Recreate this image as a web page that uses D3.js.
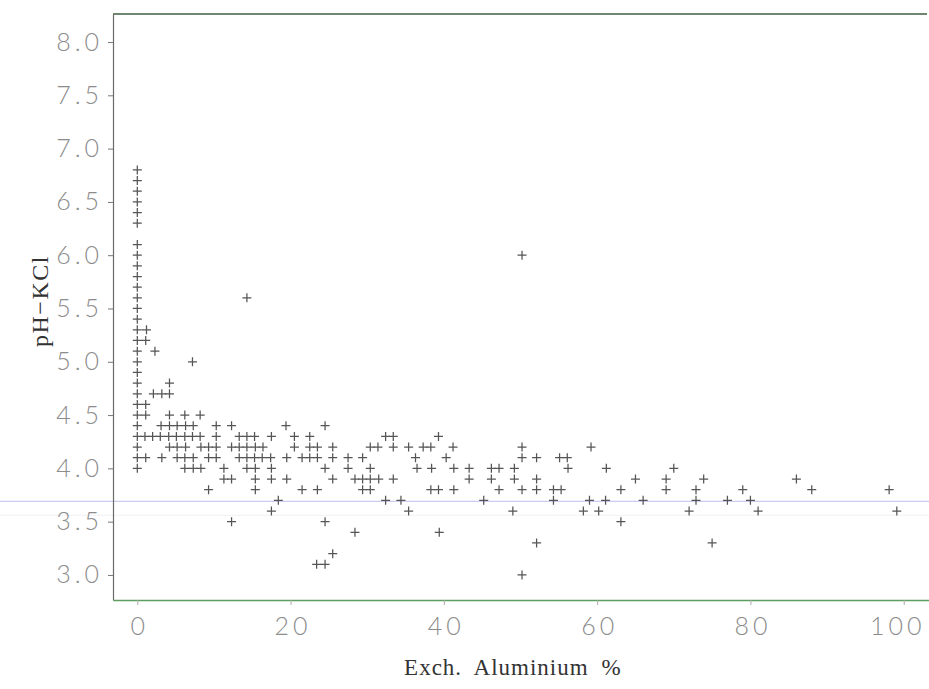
<!DOCTYPE html>
<html>
<head>
<meta charset="utf-8">
<script src="https://cdn.jsdelivr.net/npm/d3@7"></script>
<style>
  html, body { margin: 0; padding: 0; background: #fff; }
  svg { display: block; }
</style>
</head>
<body>
<div id="chart"></div>
<script>
// ---- data ----
const phLevels = [6.8, 6.7, 6.6, 6.5, 6.4, 6.3, 6.1, 6.0, 5.9, 5.8, 5.7, 5.6, 5.5, 5.4, 5.3, 5.2, 5.1, 5.0, 4.9, 4.8, 4.7, 4.6, 4.5, 4.4, 4.3, 4.2, 4.1, 4.0, 3.9, 3.8, 3.7, 3.6, 3.5, 3.4, 3.3, 3.2, 3.1, 3.0];
const alAtPh = [
  [0], [0], [0], [0], [0], [0], [0],
  [0, 50.2],
  [0], [0], [0],
  [0, 14.3],
  [0], [0],
  [0, 1.2],
  [0, 1.1],
  [0, 2.3],
  [0, 7.2],
  [0],
  [0, 4.2],
  [0, 2.1, 3.2, 4.2],
  [0, 1.1],
  [0, 1.1, 4.2, 6.2, 8.2],
  [0, 3.1, 4.2, 5.2, 6.3, 7.3, 10.3, 12.3, 19.4, 24.5],
  [0, 1, 2, 3, 4.1, 5.1, 6.2, 7.2, 8.2, 10.3, 13.3, 14.3, 15.3, 17.5, 20.5, 22.5, 32.4, 33.4, 39.3],
  [0, 4.2, 5.2, 6.3, 8.3, 9.3, 10.3, 12.3, 13.3, 14.3, 15.4, 16.4, 20.5, 22.5, 23.5, 25.5, 30.4, 31.4, 33.4, 35.4, 37.3, 38.3, 41.2, 50.2, 59.2],
  [0, 1.1, 3.2, 5.2, 6.2, 7.3, 9.3, 10.3, 13.3, 14.3, 15.3, 16.3, 17.4, 19.5, 21.5, 22.5, 23.5, 25.5, 27.5, 29.4, 36.3, 40.3, 50.2, 52.1, 55.1, 56.1],
  [0, 6.2, 7.3, 8.3, 11.3, 14.3, 15.4, 17.5, 24.5, 27.5, 30.4, 36.5, 38.4, 41.3, 43.3, 46.2, 47.2, 49.2, 56.2, 61.2, 70.0],
  [11.3, 12.3, 15.4, 17.5, 19.5, 25.5, 28.4, 29.4, 30.4, 31.5, 33.4, 43.3, 46.2, 49.2, 52.1, 65.0, 69.0, 73.9, 86.0],
  [9.3, 15.4, 21.5, 23.5, 29.4, 30.4, 38.3, 39.3, 41.3, 47.2, 50.2, 52.1, 54.3, 55.3, 63.1, 69.0, 72.9, 79.0, 88.0, 98.1],
  [18.4, 32.4, 34.4, 45.2, 54.3, 59.0, 61.1, 66.0, 72.9, 77.0, 80.0],
  [17.5, 35.4, 49.0, 58.2, 60.2, 72.0, 81.0, 99.1],
  [12.3, 24.5, 63.1],
  [28.4, 39.4],
  [52.1, 75.0],
  [25.5],
  [23.4, 24.5],
  [50.2]
];
const xTicks = [0, 20, 40, 60, 80, 100];
const yTicks = [3.0, 3.5, 4.0, 4.5, 5.0, 5.5, 6.0, 6.5, 7.0, 7.5, 8.0];
const xTitle = "Exch. Aluminium %";
const yTitle = "pH\u2212KCl";

const points = [];
phLevels.forEach((ph, i) => alAtPh[i].forEach(al => points.push({ al, ph })));

// ---- layout ----
const W = 929, H = 689;
const padL = 113, padR = 929, padT = 14, padB = 600;

const x = d3.scaleLinear().domain([-3.17, 103.3]).range([padL, padR]);
const y = d3.scaleLinear().domain([2.765, 8.263]).range([padB, padT]);

const svg = d3.select("#chart").append("svg")
  .attr("width", W).attr("height", H);

// faint scan lines
svg.append("line")
  .attr("x1", 0).attr("x2", W)
  .attr("y1", y(3.69)).attr("y2", y(3.69))
  .attr("stroke", "#cbcbf0").attr("stroke-width", 1.2);
svg.append("line")
  .attr("x1", 0).attr("x2", W)
  .attr("y1", y(3.56)).attr("y2", y(3.56))
  .attr("stroke", "#f0f0f6").attr("stroke-width", 1);

// frame
svg.append("line")
  .attr("x1", padL).attr("x2", 927)
  .attr("y1", padT).attr("y2", padT)
  .attr("stroke", "#3f5f42").attr("stroke-width", 1.4);

const tickFont = "Lato, 'DejaVu Sans', sans-serif";
const ls = 4;

// y axis
const yAxis = svg.append("g")
  .attr("transform", `translate(${padL},0)`)
  .call(d3.axisLeft(y).tickValues(yTicks).tickFormat(d3.format(".1f"))
    .tickSize(5).tickSizeOuter(0).tickPadding(5));
yAxis.select(".domain").attr("stroke", "#6a6a6a").attr("stroke-width", 1.2);
yAxis.selectAll(".tick line").attr("stroke", "#777");
yAxis.selectAll(".tick text")
  .attr("fill", "#8c8c8c")
  .style("font-family", tickFont)
  .style("font-weight", "300")
  .style("font-size", "25px")
  .style("letter-spacing", ls + "px");

// x axis
const xAxis = svg.append("g")
  .attr("transform", `translate(0,${padB})`)
  .call(d3.axisBottom(x).tickValues(xTicks).tickFormat(d3.format("d"))
    .tickSize(5).tickSizeOuter(0).tickPadding(12));
xAxis.select(".domain").attr("stroke", "#5c9e5f").attr("stroke-width", 1.4);
xAxis.selectAll(".tick line").attr("stroke", "#aaa");
xAxis.selectAll(".tick text")
  .attr("fill", "#8c8c8c")
  .attr("dx", ls / 2)
  .style("font-family", tickFont)
  .style("font-weight", "300")
  .style("font-size", "25px")
  .style("letter-spacing", ls + "px");
// keep labels inside the page (the reference's last label hugs the right edge)
xAxis.selectAll(".tick").each(function (d) {
  const t = d3.select(this).select("text");
  const b = t.node().getBBox();
  const tx = x(d);
  const overflow = tx + b.x + b.width - (W - 4);
  if (overflow > 0) t.attr("dx", ls / 2 - overflow);
});

// points
svg.append("g").selectAll("path")
  .data(points)
  .join("path")
  .attr("transform", d => `translate(${x(d.al)},${y(d.ph)})`)
  .attr("d", "M-4.5,0H4.5M0,-4.5V4.5")
  .attr("fill", "none")
  .attr("stroke", "#555")
  .attr("stroke-width", 1.25);

// titles
svg.append("text")
  .attr("x", x(49)).attr("y", 675)
  .attr("text-anchor", "middle")
  .attr("fill", "#333")
  .style("font-family", "'Liberation Serif', 'DejaVu Serif', serif")
  .style("font-size", "23px")
  .style("letter-spacing", "1px")
  .style("word-spacing", "6px")
  .text(xTitle);

svg.append("text")
  .attr("transform", `translate(48,${y(5.57)}) rotate(-90)`)
  .attr("text-anchor", "middle")
  .attr("fill", "#333")
  .style("font-family", "'Liberation Serif', 'DejaVu Serif', serif")
  .style("font-size", "24px")
  .style("letter-spacing", "1.5px")
  .text(yTitle);
</script>
</body>
</html>
